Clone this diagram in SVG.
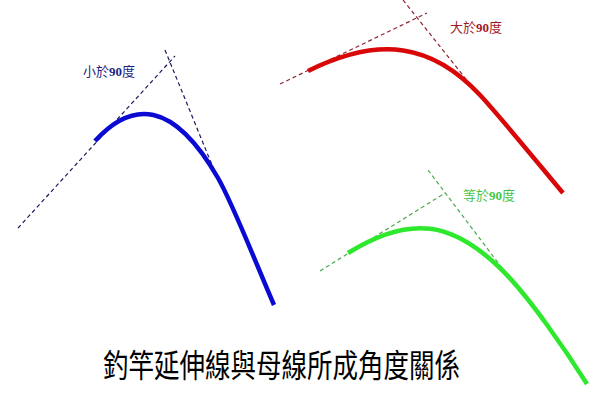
<svg xmlns="http://www.w3.org/2000/svg" width="600" height="414" viewBox="0 0 600 414">
<style>
.curve{fill:none;stroke-linecap:butt;stroke-linejoin:round}
.dash{fill:none;stroke-width:1.2;stroke-dasharray:4 3}
.lbl{font-family:"Liberation Serif","Noto Sans CJK TC",serif;font-size:13px}
.num{font-weight:bold}
.title{font-family:"Noto Sans CJK TC","Liberation Sans",sans-serif;font-size:32px;fill:#000}
</style>
<rect width="600" height="414" fill="#fff"/>
<g id="connectors">
<g id="blue-lines" stroke="#1a1a5e">
<line class="dash" x1="18" y1="228" x2="175" y2="56"/>
<line class="dash" x1="165" y1="50" x2="219" y2="182"/>
</g>
<g id="red-lines" stroke="#8e2430">
<line class="dash" x1="280" y1="84" x2="427" y2="13"/>
<line class="dash" x1="403" y1="0" x2="481" y2="98"/>
</g>
<g id="green-lines" stroke="#4aaa4a">
<line class="dash" x1="320" y1="271" x2="445" y2="193"/>
<line class="dash" x1="428" y1="170" x2="502" y2="268"/>
</g>
</g>
<g id="blue-curve">
<path class="curve" stroke="#0a0ad2" stroke-width="4.5" d="M95,141 C132,100.4 173,100 218,178 C233,204 257,266 274,305"/>
</g>
<g id="red-curve">
<path class="curve" stroke="#d80808" stroke-width="4.5" d="M308,71 C380,35.2 432.4,43.9 480,95 C500.4,116.9 543.2,169.5 563,193"/>
</g>
<g id="green-curve">
<path class="curve" stroke="#2ee82e" stroke-width="4.5" d="M348,253 C411.6,213.3 453.2,223.2 500,268 C528.8,295.6 567.8,353.6 587,384"/>
</g>
<g id="label-less">
<text class="lbl" x="83" y="76" fill="#1e1e82">小於<tspan class="num">90</tspan>度</text>
</g>
<g id="label-greater">
<text class="lbl" x="450" y="32" fill="#a01a2a">大於<tspan class="num">90</tspan>度</text>
</g>
<g id="label-equal">
<text class="lbl" x="463" y="200" fill="#44c444">等於<tspan class="num">90</tspan>度</text>
</g>
<g id="title">
<text class="title" x="103" y="377" textLength="357" lengthAdjust="spacingAndGlyphs">釣竿延伸線與母線所成角度關係</text>
</g>
</svg>
